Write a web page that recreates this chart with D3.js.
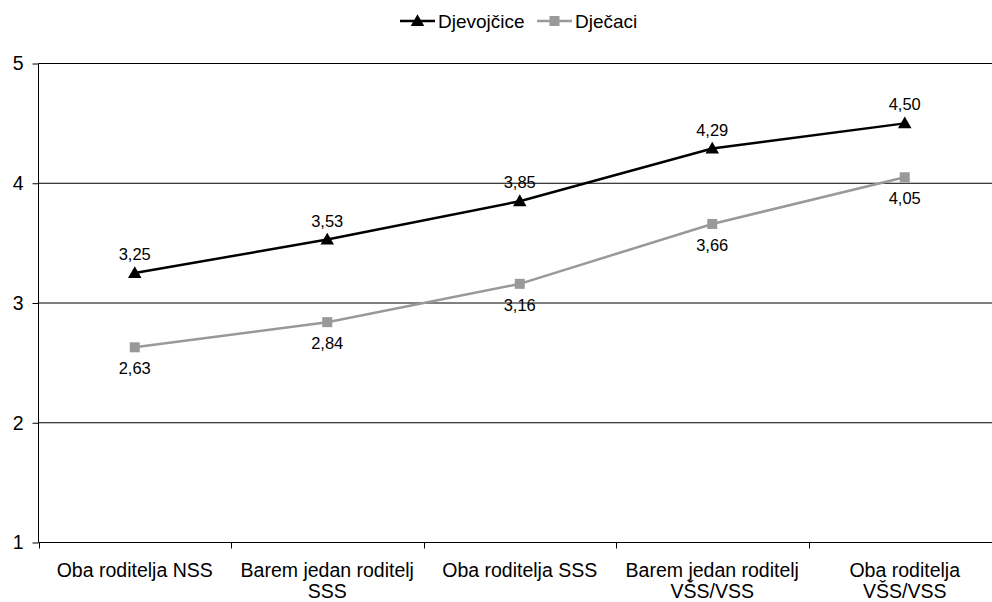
<!DOCTYPE html>
<html><head><meta charset="utf-8">
<script src="https://cdn.jsdelivr.net/npm/d3@7"></script>
<style>
html,body{margin:0;padding:0;background:#fff;overflow:hidden}
svg{display:block;font-family:"Liberation Sans",Arial,sans-serif}
</style></head>
<body>
<svg id="c" width="992" height="602"></svg>
<script>
const categories = [["Oba roditelja NSS"], ["Barem jedan roditelj","SSS"], ["Oba roditelja SSS"], ["Barem jedan roditelj","VŠS/VSS"], ["Oba roditelja","VŠS/VSS"]];
const seriesNames = ["Djevojčice", "Dječaci"];
const djevojcice = [3.25, 3.53, 3.85, 4.29, 4.50];
const djecaci = [2.63, 2.84, 3.16, 3.66, 4.05];
const yTicks = [1, 2, 3, 4, 5];

const svg = d3.select("#c");
const catKeys = categories.map((c,i)=>i);
const x = d3.scaleBand().domain(catKeys).range([38.5, 1001]).padding(0);
const y = d3.scaleLinear().domain([1,5]).range([542.5, 63.5]);
const fmt = v => d3.format(".2f")(v).replace(".", ",");

// gridlines
svg.append("g").selectAll("line").data(yTicks.filter(t=>t>1)).join("line")
  .attr("x1", 38.5).attr("x2", 1001).attr("y1", d=>y(d)).attr("y2", d=>y(d))
  .attr("stroke", "#000").attr("stroke-width", 1);

// y axis
const yAxis = d3.axisLeft(y).tickValues(yTicks).tickSize(6).tickPadding(9).tickFormat(d3.format("d"));
const gy = svg.append("g").attr("transform","translate(38.5,0)").call(yAxis);
gy.select(".domain").attr("stroke","#000").attr("d","M0,63.5V542.5");
gy.selectAll(".tick line").attr("stroke","#000");
gy.selectAll(".tick text").attr("font-size","19.5px").attr("fill","#000").attr("font-family","Liberation Sans, Arial, sans-serif");

// x axis
const gx = svg.append("g").attr("transform","translate(0,542.5)");
gx.append("line").attr("x1",38.5).attr("x2",1001).attr("stroke","#000");
const boundaries = catKeys.map(k=>x(k)).concat([x(catKeys[catKeys.length-1])+x.bandwidth()]);
gx.selectAll(".tk").data(boundaries).join("line").attr("class","tk")
  .attr("x1",d=>Math.round(d)+0.5).attr("x2",d=>Math.round(d)+0.5).attr("y1",0).attr("y2",6).attr("stroke","#000");
const lbl = gx.selectAll(".cl").data(categories).join("text").attr("class","cl")
  .attr("x",(d,i)=>x(i)+x.bandwidth()/2).attr("y",34)
  .attr("text-anchor","middle").attr("font-size","19.5px").attr("fill","#000");
lbl.each(function(d){
  const t = d3.select(this);
  d.forEach((line,j)=>t.append("tspan").attr("x",t.attr("x")).attr("dy", j===0?0:21).text(line));
});

const cx = i => x(i)+x.bandwidth()/2;
const line = d3.line().x((d,i)=>cx(i)).y(d=>y(d));

// gray series
svg.append("path").datum(djecaci).attr("d",line).attr("fill","none").attr("stroke","#999").attr("stroke-width",2.5);
// black series
svg.append("path").datum(djevojcice).attr("d",line).attr("fill","none").attr("stroke","#000").attr("stroke-width",2.5);

const tri = d3.symbol().type(d3.symbolTriangle).size(80);
svg.append("g").selectAll("path").data(djecaci).join("rect")
  .attr("x",(d,i)=>cx(i)-5).attr("y",d=>y(d)-5).attr("width",10).attr("height",10).attr("fill","#999");
svg.append("g").selectAll("path").data(djevojcice).join("path")
  .attr("d",tri).attr("transform",(d,i)=>`translate(${cx(i)},${y(d)+1})`).attr("fill","#000");

// labels
svg.append("g").selectAll("text").data(djevojcice).join("text")
  .attr("x",(d,i)=>cx(i)).attr("y",d=>y(d)-13).attr("text-anchor","middle")
  .attr("font-size","16.5px").attr("fill","#000").text(fmt);
svg.append("g").selectAll("text").data(djecaci).join("text")
  .attr("x",(d,i)=>cx(i)).attr("y",d=>y(d)+27).attr("text-anchor","middle")
  .attr("font-size","16.5px").attr("fill","#000").text(fmt);

// legend
const lg = svg.append("g").attr("transform","translate(0,21)");
const items = [{name:seriesNames[0], color:"#000", sym:"tri", x0:400},{name:seriesNames[1], color:"#999", sym:"sq", x0:537}];
items.forEach(it=>{
  lg.append("line").attr("x1",it.x0).attr("x2",it.x0+35).attr("y1",0).attr("y2",0).attr("stroke",it.color).attr("stroke-width",2.5);
  if(it.sym==="tri") lg.append("path").attr("d",tri).attr("transform",`translate(${it.x0+17.5},1)`).attr("fill",it.color);
  else lg.append("rect").attr("x",it.x0+12.5).attr("y",-5).attr("width",10).attr("height",10).attr("fill",it.color);
  lg.append("text").attr("x",it.x0+38).attr("y",7).attr("font-size","19px").attr("fill","#000").text(it.name);
});
</script>
</body></html>
